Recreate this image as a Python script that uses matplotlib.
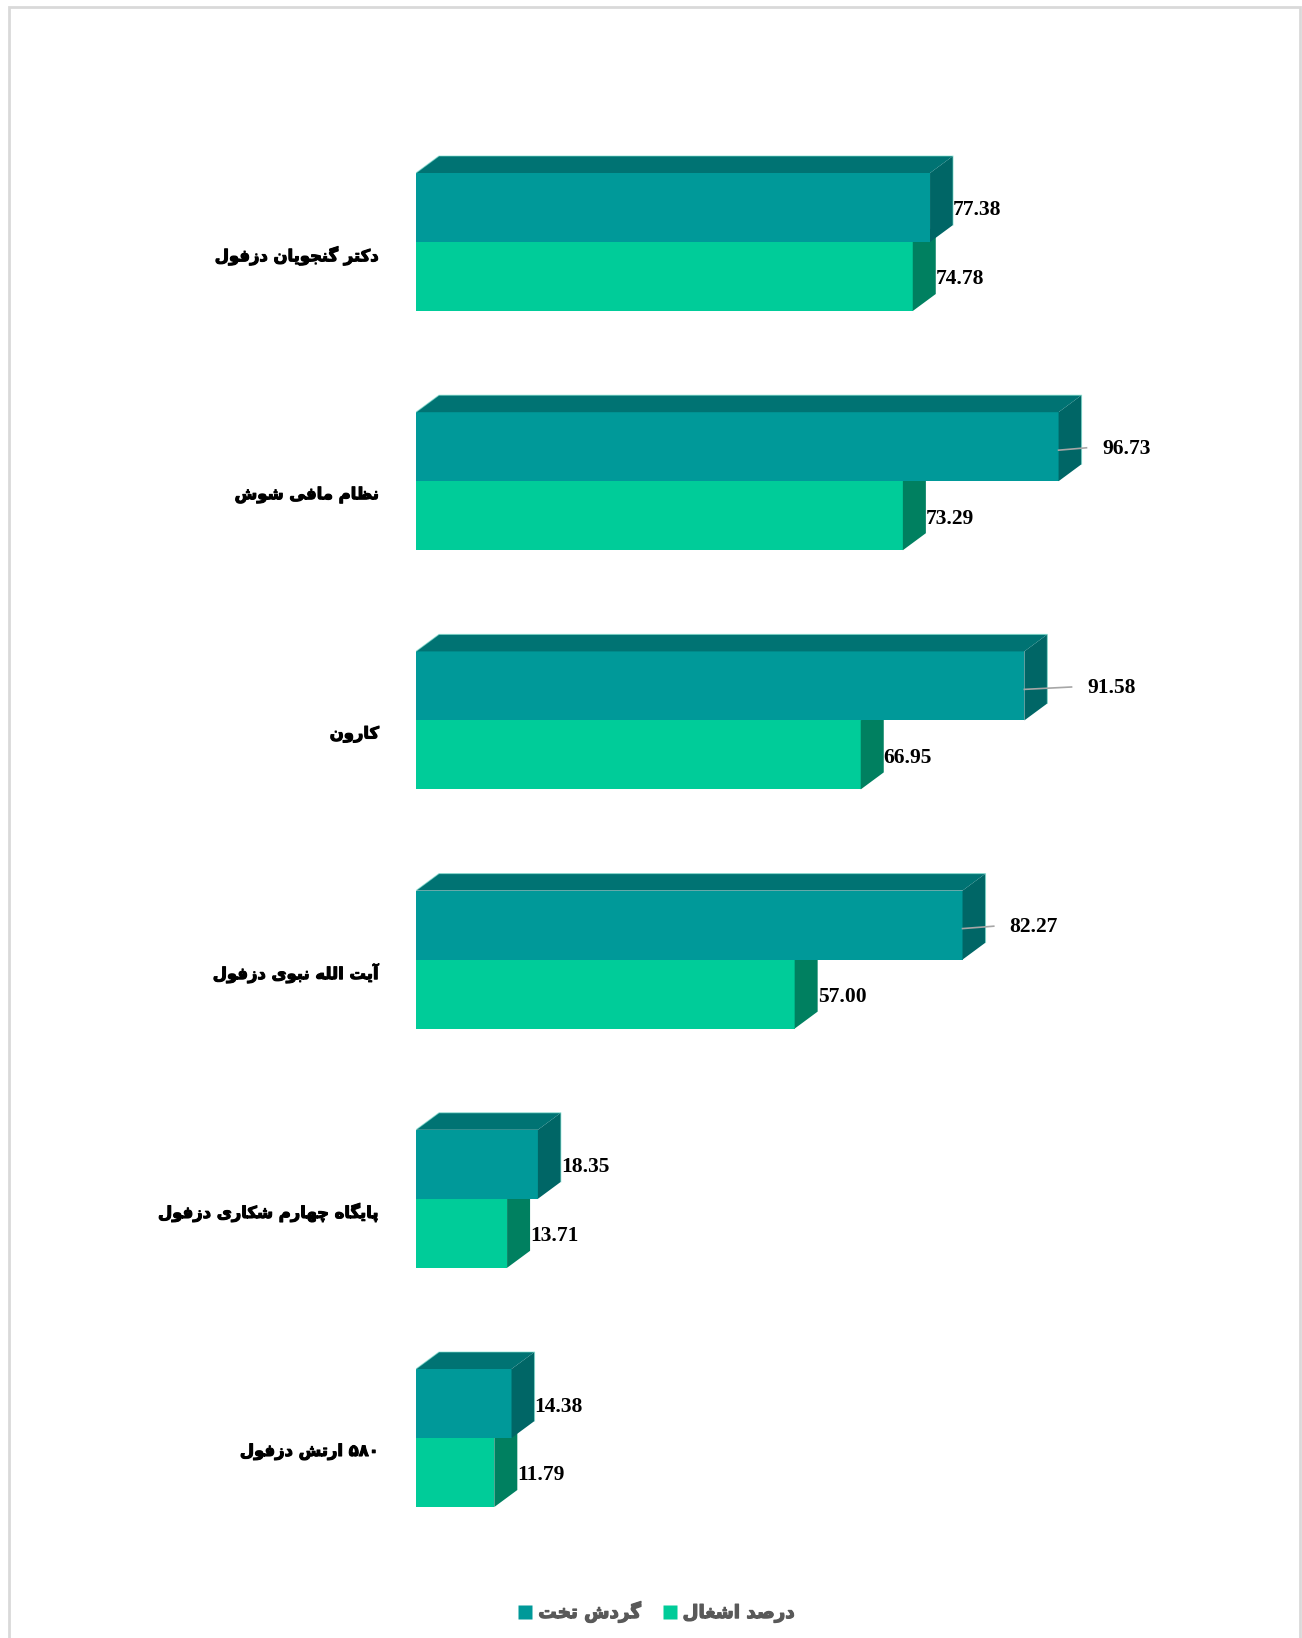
import re
import matplotlib
matplotlib.use("Agg")
import matplotlib.pyplot as plt
import matplotlib.patheffects as pe
from matplotlib.patches import Polygon, Rectangle
from matplotlib.lines import Line2D

# ---------------- data ----------------
categories = [
    "دکتر گنجویان دزفول",
    "نظام مافی شوش",
    "کارون",
    "آیت الله نبوی دزفول",
    "پایگاه چهارم شکاری دزفول",
    "۵۸۰ ارتش دزفول",
]
series_names = ["گردش تخت", "درصد اشغال"]
bed_turnover = [77.38, 96.73, 91.58, 82.27, 18.35, 14.38]
occupancy = [74.78, 73.29, 66.95, 57.00, 13.71, 11.79]

# ---------------- minimal Persian shaping ----------------
FORMS = {  # isolated, final, initial, medial
    'ا': ('\uFE8D', '\uFE8E', None, None),
    'آ': ('\uFE81', '\uFE82', None, None),
    'ب': ('\uFE8F', '\uFE90', '\uFE91', '\uFE92'),
    'پ': ('\uFB56', '\uFB57', '\uFB58', '\uFB59'),
    'ت': ('\uFE95', '\uFE96', '\uFE97', '\uFE98'),
    'ث': ('\uFE99', '\uFE9A', '\uFE9B', '\uFE9C'),
    'ج': ('\uFE9D', '\uFE9E', '\uFE9F', '\uFEA0'),
    'چ': ('\uFB7A', '\uFB7B', '\uFB7C', '\uFB7D'),
    'ح': ('\uFEA1', '\uFEA2', '\uFEA3', '\uFEA4'),
    'خ': ('\uFEA5', '\uFEA6', '\uFEA7', '\uFEA8'),
    'د': ('\uFEA9', '\uFEAA', None, None),
    'ذ': ('\uFEAB', '\uFEAC', None, None),
    'ر': ('\uFEAD', '\uFEAE', None, None),
    'ز': ('\uFEAF', '\uFEB0', None, None),
    'ژ': ('\uFB8A', '\uFB8B', None, None),
    'س': ('\uFEB1', '\uFEB2', '\uFEB3', '\uFEB4'),
    'ش': ('\uFEB5', '\uFEB6', '\uFEB7', '\uFEB8'),
    'ص': ('\uFEB9', '\uFEBA', '\uFEBB', '\uFEBC'),
    'ض': ('\uFEBD', '\uFEBE', '\uFEBF', '\uFEC0'),
    'ط': ('\uFEC1', '\uFEC2', '\uFEC3', '\uFEC4'),
    'ظ': ('\uFEC5', '\uFEC6', '\uFEC7', '\uFEC8'),
    'ع': ('\uFEC9', '\uFECA', '\uFECB', '\uFECC'),
    'غ': ('\uFECD', '\uFECE', '\uFECF', '\uFED0'),
    'ف': ('\uFED1', '\uFED2', '\uFED3', '\uFED4'),
    'ق': ('\uFED5', '\uFED6', '\uFED7', '\uFED8'),
    'ک': ('\uFB8E', '\uFB8F', '\uFB90', '\uFB91'),
    'گ': ('\uFB92', '\uFB93', '\uFB94', '\uFB95'),
    'ل': ('\uFEDD', '\uFEDE', '\uFEDF', '\uFEE0'),
    'م': ('\uFEE1', '\uFEE2', '\uFEE3', '\uFEE4'),
    'ن': ('\uFEE5', '\uFEE6', '\uFEE7', '\uFEE8'),
    'ه': ('\uFEE9', '\uFEEA', '\uFEEB', '\uFEEC'),
    'و': ('\uFEED', '\uFEEE', None, None),
    'ی': ('\uFBFC', '\uFBFD', '\uFBFE', '\uFBFF'),
}


def _dual(c):
    return c in FORMS and FORMS[c][2] is not None


def shape(text):
    out = []
    n = len(text)
    for i, c in enumerate(text):
        if c not in FORMS:
            out.append(c)
            continue
        prev = text[i - 1] if i > 0 else ''
        nxt = text[i + 1] if i + 1 < n else ''
        join_prev = _dual(prev)
        join_next = _dual(c) and nxt in FORMS
        iso, fin, ini, med = FORMS[c]
        if join_prev and join_next:
            out.append(med)
        elif join_prev:
            out.append(fin)
        elif join_next:
            out.append(ini)
        else:
            out.append(iso)
    s = ''.join(out)[::-1]
    # keep digit runs left-to-right
    s = re.sub(r'[0-9\u06F0-\u06F9]+', lambda m: m.group(0)[::-1], s)
    return s


# ---------------- layout ----------------
W, H, DPI = 1302, 1638, 100
fig = plt.figure(figsize=(W / DPI, H / DPI), dpi=DPI)
fig.patch.set_facecolor("white")

zero_px = 416.0
px_per_unit = 6.643
group_px = 239.2
first_center_px = 242.0

ax = fig.add_axes([zero_px / W, 0, 1 - zero_px / W, 1])
ax.set_xlim(0, (W - zero_px) / px_per_unit)
ax.set_ylim((H - first_center_px) / group_px, -first_center_px / group_px)
ax.axis("off")

bar_h = 69.0 / group_px
depth_x = 23.0 / px_per_unit
depth_y = -17.0 / group_px

teal = dict(front="#009999", top="#007373", side="#006666")
green = dict(front="#00CC99", top="#00A37A", side="#008060")
edge_glow = "#7FE0D0"


def draw_box(x, y0, y1, col, top=True, z=2):
    # front face
    ax.add_patch(Polygon([(0, y0), (x, y0), (x, y1), (0, y1)], closed=True,
                         facecolor=col["front"], edgecolor="none", zorder=z))
    # side face
    ax.add_patch(Polygon([(x, y0), (x + depth_x, y0 + depth_y),
                          (x + depth_x, y1 + depth_y), (x, y1)], closed=True,
                         facecolor=col["side"], edgecolor="none", zorder=z))
    if top:
        ax.add_patch(Polygon([(0, y0), (depth_x, y0 + depth_y),
                              (x + depth_x, y0 + depth_y), (x, y0)], closed=True,
                             facecolor=col["top"], edgecolor="none", zorder=z))
        ax.plot([0, depth_x, x + depth_x, x + depth_x],
                [y0, y0 + depth_y, y0 + depth_y, y1 + depth_y],
                color=edge_glow, lw=0.8, alpha=0.6, zorder=z + 0.1)


# leader-line style per teal label (offsets in value units), None = plain label
teal_label_off = [None, (4.2, 6.6), (7.1, 9.5), (4.7, 7.1), None, None]
lab_dy = 3.0 / group_px
cat_dy = 14.0 / group_px
bold_fx = [pe.withStroke(linewidth=0.8, foreground="black")]

for i, (vt, vg) in enumerate(zip(bed_turnover, occupancy)):
    # green (lower) bar first, teal on top of it
    draw_box(vg, i, i + bar_h, green, top=False, z=2)
    draw_box(vt, i - bar_h, i, teal, top=True, z=3)

    lab_kw = dict(fontsize=15.5, fontweight="bold", family="Liberation Serif",
                  color="black", va="center", ha="left", zorder=5)
    yc_t = i - bar_h / 2 + lab_dy
    yc_g = i + bar_h / 2 + lab_dy
    off = teal_label_off[i]
    if off is None:
        ax.text(vt + depth_x, yc_t, f"{vt:.2f}", **lab_kw)
    else:
        ax.plot([vt, vt + off[0]], [yc_t + 0.002, yc_t - 0.008],
                color="#A6A6A6", lw=1.2, zorder=4)
        ax.text(vt + off[1], yc_t - 0.005, f"{vt:.2f}", **lab_kw)
    ax.text(vg + depth_x, yc_g, f"{vg:.2f}", **lab_kw)

    # category label
    ax.text(-(zero_px - 379) / px_per_unit, i + cat_dy, shape(categories[i]),
            fontsize=11.8, fontweight="bold", family="DejaVu Sans",
            color="black", ha="right", va="center", clip_on=False,
            path_effects=bold_fx)

# legend
handles = [Line2D([], [], marker="s", ls="none", markersize=10,
                  markerfacecolor=c, markeredgecolor="none")
           for c in (teal["front"], green["front"])]
leg = fig.legend(handles, [shape(s) for s in series_names], loc="center",
                 bbox_to_anchor=(657 / W, 1 - 1612 / H), ncol=2, frameon=False,
                 prop=dict(family="DejaVu Sans", weight="bold", size=13.2),
                 labelcolor="#595959", handletextpad=0.35, columnspacing=1.2,
                 handlelength=0.7)
for t in leg.get_texts():
    t.set_path_effects([pe.withStroke(linewidth=0.9, foreground="#595959")])

# outer chart border
fig.patches.append(Rectangle((8.5 / W, -0.02), (1300 - 8.5) / W, 1 - 7 / H + 0.02,
                             transform=fig.transFigure, fill=False,
                             edgecolor="#D9D9D9", lw=2))

fig.savefig("out.png", dpi=DPI, facecolor="white")
